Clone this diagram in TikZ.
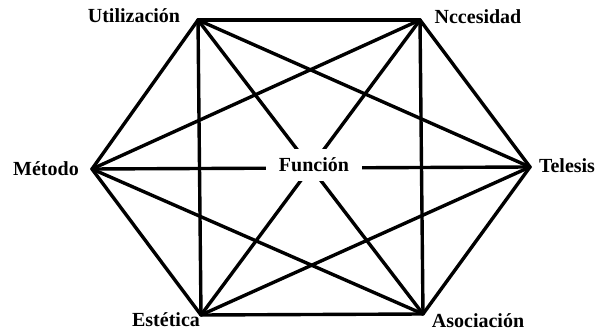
\documentclass[tikz,border=0pt]{standalone}
\usepackage{fontspec}
\setmainfont{Liberation Serif}
\begin{document}
\begin{tikzpicture}[x=1pt,y=1pt,
  edge/.style={line width=3.4pt,line cap=round,black},
  lab/.style={font=\fontsize{20}{22}\selectfont\bfseries,inner sep=0pt}]
\useasboundingbox (0,0) rectangle (601,331);
\coordinate (U) at (198,311);
\coordinate (N) at (420,311);
\coordinate (T) at (530,164);
\coordinate (A) at (423,17);
\coordinate (E) at (201,16);
\coordinate (M) at (92,162);
\foreach \a/\b in {U/N,N/T,T/A,A/E,E/M,M/U,U/T,U/A,U/E,N/M,N/E,N/A,M/T,M/A,E/T}
  \draw[edge] (\a) -- (\b);
\node[lab] (lU) at (134,315) {Utilización};
\node[lab] (lN) at (478,314) {Nccesidad};
\node[lab] (lM) at (46,162) {Método};
\node[lab] (lT) at (567,165) {Telesis};
\node[lab] (lE) at (166,11) {Estética};
\node[lab] (lA) at (478,10) {Asociación};
\node[lab,fill=white,inner xsep=13pt,inner ysep=9pt] (F) at (314,166) {Función};
\end{tikzpicture}
\end{document}
